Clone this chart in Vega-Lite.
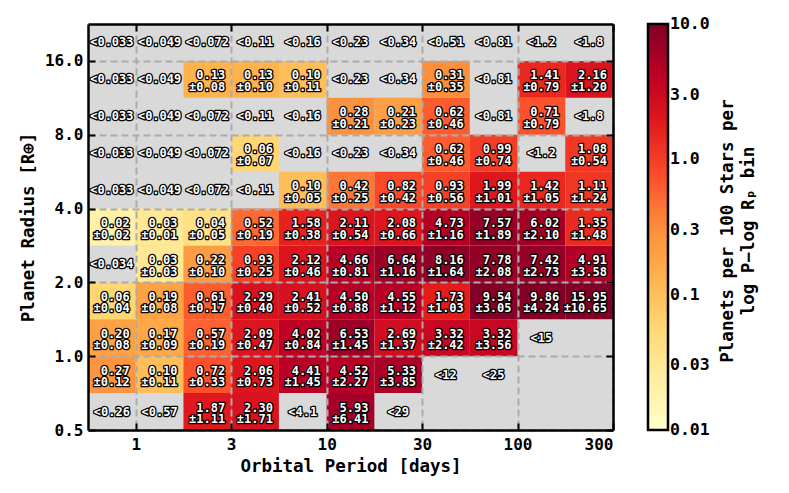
{
  "$schema": "https://vega.github.io/schema/vega-lite/v6.json",
  "autosize": "none",
  "width": 525,
  "height": 406,
  "padding": {"left": 88, "top": 24, "right": 176, "bottom": 63},
  "background": "white",
  "datasets": {
    "rates": [
      {"P0": 1.7, "P1": 3, "R0": 0.5, "R1": 0.707, "rate": 1.87, "err": 1.11, "label": "1.87\n±1.11"},
      {"P0": 3, "P1": 5.5, "R0": 0.5, "R1": 0.707, "rate": 2.30, "err": 1.71, "label": "2.30\n±1.71"},
      {"P0": 10, "P1": 17, "R0": 0.5, "R1": 0.707, "rate": 5.93, "err": 6.41, "label": "5.93\n±6.41"},

      {"P0": 0.5, "P1": 1, "R0": 0.707, "R1": 1, "rate": 0.27, "err": 0.12, "label": "0.27\n±0.12"},
      {"P0": 1, "P1": 1.7, "R0": 0.707, "R1": 1, "rate": 0.10, "err": 0.11, "label": "0.10\n±0.11"},
      {"P0": 1.7, "P1": 3, "R0": 0.707, "R1": 1, "rate": 0.72, "err": 0.33, "label": "0.72\n±0.33"},
      {"P0": 3, "P1": 5.5, "R0": 0.707, "R1": 1, "rate": 2.06, "err": 0.73, "label": "2.06\n±0.73"},
      {"P0": 5.5, "P1": 10, "R0": 0.707, "R1": 1, "rate": 4.41, "err": 1.45, "label": "4.41\n±1.45"},
      {"P0": 10, "P1": 17, "R0": 0.707, "R1": 1, "rate": 4.52, "err": 2.27, "label": "4.52\n±2.27"},
      {"P0": 17, "P1": 30, "R0": 0.707, "R1": 1, "rate": 5.33, "err": 3.85, "label": "5.33\n±3.85"},

      {"P0": 0.5, "P1": 1, "R0": 1, "R1": 1.414, "rate": 0.20, "err": 0.08, "label": "0.20\n±0.08"},
      {"P0": 1, "P1": 1.7, "R0": 1, "R1": 1.414, "rate": 0.17, "err": 0.09, "label": "0.17\n±0.09"},
      {"P0": 1.7, "P1": 3, "R0": 1, "R1": 1.414, "rate": 0.57, "err": 0.19, "label": "0.57\n±0.19"},
      {"P0": 3, "P1": 5.5, "R0": 1, "R1": 1.414, "rate": 2.09, "err": 0.47, "label": "2.09\n±0.47"},
      {"P0": 5.5, "P1": 10, "R0": 1, "R1": 1.414, "rate": 4.02, "err": 0.84, "label": "4.02\n±0.84"},
      {"P0": 10, "P1": 17, "R0": 1, "R1": 1.414, "rate": 6.53, "err": 1.45, "label": "6.53\n±1.45"},
      {"P0": 17, "P1": 30, "R0": 1, "R1": 1.414, "rate": 2.69, "err": 1.37, "label": "2.69\n±1.37"},
      {"P0": 30, "P1": 55, "R0": 1, "R1": 1.414, "rate": 3.32, "err": 2.42, "label": "3.32\n±2.42"},
      {"P0": 55, "P1": 100, "R0": 1, "R1": 1.414, "rate": 3.32, "err": 3.56, "label": "3.32\n±3.56"},

      {"P0": 0.5, "P1": 1, "R0": 1.414, "R1": 2, "rate": 0.06, "err": 0.04, "label": "0.06\n±0.04"},
      {"P0": 1, "P1": 1.7, "R0": 1.414, "R1": 2, "rate": 0.19, "err": 0.08, "label": "0.19\n±0.08"},
      {"P0": 1.7, "P1": 3, "R0": 1.414, "R1": 2, "rate": 0.61, "err": 0.17, "label": "0.61\n±0.17"},
      {"P0": 3, "P1": 5.5, "R0": 1.414, "R1": 2, "rate": 2.29, "err": 0.40, "label": "2.29\n±0.40"},
      {"P0": 5.5, "P1": 10, "R0": 1.414, "R1": 2, "rate": 2.41, "err": 0.52, "label": "2.41\n±0.52"},
      {"P0": 10, "P1": 17, "R0": 1.414, "R1": 2, "rate": 4.50, "err": 0.88, "label": "4.50\n±0.88"},
      {"P0": 17, "P1": 30, "R0": 1.414, "R1": 2, "rate": 4.55, "err": 1.12, "label": "4.55\n±1.12"},
      {"P0": 30, "P1": 55, "R0": 1.414, "R1": 2, "rate": 1.73, "err": 1.03, "label": "1.73\n±1.03"},
      {"P0": 55, "P1": 100, "R0": 1.414, "R1": 2, "rate": 9.54, "err": 3.05, "label": "9.54\n±3.05"},
      {"P0": 100, "P1": 170, "R0": 1.414, "R1": 2, "rate": 9.86, "err": 4.24, "label": "9.86\n±4.24"},
      {"P0": 170, "P1": 300, "R0": 1.414, "R1": 2, "rate": 15.95, "err": 10.65, "label": "15.95\n±10.65"},

      {"P0": 1, "P1": 1.7, "R0": 2, "R1": 2.828, "rate": 0.03, "err": 0.03, "label": "0.03\n±0.03"},
      {"P0": 1.7, "P1": 3, "R0": 2, "R1": 2.828, "rate": 0.22, "err": 0.10, "label": "0.22\n±0.10"},
      {"P0": 3, "P1": 5.5, "R0": 2, "R1": 2.828, "rate": 0.93, "err": 0.25, "label": "0.93\n±0.25"},
      {"P0": 5.5, "P1": 10, "R0": 2, "R1": 2.828, "rate": 2.12, "err": 0.46, "label": "2.12\n±0.46"},
      {"P0": 10, "P1": 17, "R0": 2, "R1": 2.828, "rate": 4.66, "err": 0.81, "label": "4.66\n±0.81"},
      {"P0": 17, "P1": 30, "R0": 2, "R1": 2.828, "rate": 6.64, "err": 1.16, "label": "6.64\n±1.16"},
      {"P0": 30, "P1": 55, "R0": 2, "R1": 2.828, "rate": 8.16, "err": 1.64, "label": "8.16\n±1.64"},
      {"P0": 55, "P1": 100, "R0": 2, "R1": 2.828, "rate": 7.78, "err": 2.08, "label": "7.78\n±2.08"},
      {"P0": 100, "P1": 170, "R0": 2, "R1": 2.828, "rate": 7.42, "err": 2.73, "label": "7.42\n±2.73"},
      {"P0": 170, "P1": 300, "R0": 2, "R1": 2.828, "rate": 4.91, "err": 3.58, "label": "4.91\n±3.58"},

      {"P0": 0.5, "P1": 1, "R0": 2.828, "R1": 4, "rate": 0.02, "err": 0.02, "label": "0.02\n±0.02"},
      {"P0": 1, "P1": 1.7, "R0": 2.828, "R1": 4, "rate": 0.03, "err": 0.01, "label": "0.03\n±0.01"},
      {"P0": 1.7, "P1": 3, "R0": 2.828, "R1": 4, "rate": 0.04, "err": 0.05, "label": "0.04\n±0.05"},
      {"P0": 3, "P1": 5.5, "R0": 2.828, "R1": 4, "rate": 0.52, "err": 0.19, "label": "0.52\n±0.19"},
      {"P0": 5.5, "P1": 10, "R0": 2.828, "R1": 4, "rate": 1.58, "err": 0.38, "label": "1.58\n±0.38"},
      {"P0": 10, "P1": 17, "R0": 2.828, "R1": 4, "rate": 2.11, "err": 0.54, "label": "2.11\n±0.54"},
      {"P0": 17, "P1": 30, "R0": 2.828, "R1": 4, "rate": 2.08, "err": 0.66, "label": "2.08\n±0.66"},
      {"P0": 30, "P1": 55, "R0": 2.828, "R1": 4, "rate": 4.73, "err": 1.16, "label": "4.73\n±1.16"},
      {"P0": 55, "P1": 100, "R0": 2.828, "R1": 4, "rate": 7.57, "err": 1.89, "label": "7.57\n±1.89"},
      {"P0": 100, "P1": 170, "R0": 2.828, "R1": 4, "rate": 6.02, "err": 2.10, "label": "6.02\n±2.10"},
      {"P0": 170, "P1": 300, "R0": 2.828, "R1": 4, "rate": 1.35, "err": 1.48, "label": "1.35\n±1.48"},

      {"P0": 5.5, "P1": 10, "R0": 4, "R1": 5.657, "rate": 0.10, "err": 0.05, "label": "0.10\n±0.05"},
      {"P0": 10, "P1": 17, "R0": 4, "R1": 5.657, "rate": 0.42, "err": 0.25, "label": "0.42\n±0.25"},
      {"P0": 17, "P1": 30, "R0": 4, "R1": 5.657, "rate": 0.82, "err": 0.42, "label": "0.82\n±0.42"},
      {"P0": 30, "P1": 55, "R0": 4, "R1": 5.657, "rate": 0.93, "err": 0.56, "label": "0.93\n±0.56"},
      {"P0": 55, "P1": 100, "R0": 4, "R1": 5.657, "rate": 1.99, "err": 1.01, "label": "1.99\n±1.01"},
      {"P0": 100, "P1": 170, "R0": 4, "R1": 5.657, "rate": 1.42, "err": 1.05, "label": "1.42\n±1.05"},
      {"P0": 170, "P1": 300, "R0": 4, "R1": 5.657, "rate": 1.11, "err": 1.24, "label": "1.11\n±1.24"},

      {"P0": 3, "P1": 5.5, "R0": 5.657, "R1": 8, "rate": 0.06, "err": 0.07, "label": "0.06\n±0.07"},
      {"P0": 30, "P1": 55, "R0": 5.657, "R1": 8, "rate": 0.62, "err": 0.46, "label": "0.62\n±0.46"},
      {"P0": 55, "P1": 100, "R0": 5.657, "R1": 8, "rate": 0.99, "err": 0.74, "label": "0.99\n±0.74"},
      {"P0": 170, "P1": 300, "R0": 5.657, "R1": 8, "rate": 1.08, "err": 0.54, "label": "1.08\n±0.54"},

      {"P0": 10, "P1": 17, "R0": 8, "R1": 11.31, "rate": 0.28, "err": 0.21, "label": "0.28\n±0.21"},
      {"P0": 17, "P1": 30, "R0": 8, "R1": 11.31, "rate": 0.21, "err": 0.23, "label": "0.21\n±0.23"},
      {"P0": 30, "P1": 55, "R0": 8, "R1": 11.31, "rate": 0.62, "err": 0.46, "label": "0.62\n±0.46"},
      {"P0": 100, "P1": 170, "R0": 8, "R1": 11.31, "rate": 0.71, "err": 0.79, "label": "0.71\n±0.79"},

      {"P0": 1.7, "P1": 3, "R0": 11.31, "R1": 16, "rate": 0.13, "err": 0.08, "label": "0.13\n±0.08"},
      {"P0": 3, "P1": 5.5, "R0": 11.31, "R1": 16, "rate": 0.13, "err": 0.10, "label": "0.13\n±0.10"},
      {"P0": 5.5, "P1": 10, "R0": 11.31, "R1": 16, "rate": 0.10, "err": 0.11, "label": "0.10\n±0.11"},
      {"P0": 30, "P1": 55, "R0": 11.31, "R1": 16, "rate": 0.31, "err": 0.35, "label": "0.31\n±0.35"},
      {"P0": 100, "P1": 170, "R0": 11.31, "R1": 16, "rate": 1.41, "err": 0.79, "label": "1.41\n±0.79"},
      {"P0": 170, "P1": 300, "R0": 11.31, "R1": 16, "rate": 2.16, "err": 1.20, "label": "2.16\n±1.20"}
    ],
    "limits": [
      {"P0": 0.5, "P1": 1, "R0": 0.5, "R1": 0.707, "limit": 0.26, "label": "<0.26"},
      {"P0": 1, "P1": 1.7, "R0": 0.5, "R1": 0.707, "limit": 0.57, "label": "<0.57"},
      {"P0": 5.5, "P1": 10, "R0": 0.5, "R1": 0.707, "limit": 4.1, "label": "<4.1"},
      {"P0": 17, "P1": 30, "R0": 0.5, "R1": 0.707, "limit": 29, "label": "<29"},
      {"P0": 30, "P1": 55, "R0": 0.707, "R1": 1, "limit": 12, "label": "<12"},
      {"P0": 55, "P1": 100, "R0": 0.707, "R1": 1, "limit": 25, "label": "<25"},
      {"P0": 100, "P1": 170, "R0": 1, "R1": 1.414, "limit": 15, "label": "<15"},
      {"P0": 0.5, "P1": 1, "R0": 2, "R1": 2.828, "limit": 0.034, "label": "<0.034"},
      {"P0": 0.5, "P1": 1, "R0": 4, "R1": 5.657, "limit": 0.033, "label": "<0.033"},
      {"P0": 1, "P1": 1.7, "R0": 4, "R1": 5.657, "limit": 0.049, "label": "<0.049"},
      {"P0": 1.7, "P1": 3, "R0": 4, "R1": 5.657, "limit": 0.072, "label": "<0.072"},
      {"P0": 3, "P1": 5.5, "R0": 4, "R1": 5.657, "limit": 0.11, "label": "<0.11"},
      {"P0": 0.5, "P1": 1, "R0": 5.657, "R1": 8, "limit": 0.033, "label": "<0.033"},
      {"P0": 1, "P1": 1.7, "R0": 5.657, "R1": 8, "limit": 0.049, "label": "<0.049"},
      {"P0": 1.7, "P1": 3, "R0": 5.657, "R1": 8, "limit": 0.072, "label": "<0.072"},
      {"P0": 5.5, "P1": 10, "R0": 5.657, "R1": 8, "limit": 0.16, "label": "<0.16"},
      {"P0": 10, "P1": 17, "R0": 5.657, "R1": 8, "limit": 0.23, "label": "<0.23"},
      {"P0": 17, "P1": 30, "R0": 5.657, "R1": 8, "limit": 0.34, "label": "<0.34"},
      {"P0": 100, "P1": 170, "R0": 5.657, "R1": 8, "limit": 1.2, "label": "<1.2"},
      {"P0": 0.5, "P1": 1, "R0": 8, "R1": 11.31, "limit": 0.033, "label": "<0.033"},
      {"P0": 1, "P1": 1.7, "R0": 8, "R1": 11.31, "limit": 0.049, "label": "<0.049"},
      {"P0": 1.7, "P1": 3, "R0": 8, "R1": 11.31, "limit": 0.072, "label": "<0.072"},
      {"P0": 3, "P1": 5.5, "R0": 8, "R1": 11.31, "limit": 0.11, "label": "<0.11"},
      {"P0": 5.5, "P1": 10, "R0": 8, "R1": 11.31, "limit": 0.16, "label": "<0.16"},
      {"P0": 55, "P1": 100, "R0": 8, "R1": 11.31, "limit": 0.81, "label": "<0.81"},
      {"P0": 170, "P1": 300, "R0": 8, "R1": 11.31, "limit": 1.8, "label": "<1.8"},
      {"P0": 0.5, "P1": 1, "R0": 11.31, "R1": 16, "limit": 0.033, "label": "<0.033"},
      {"P0": 1, "P1": 1.7, "R0": 11.31, "R1": 16, "limit": 0.049, "label": "<0.049"},
      {"P0": 10, "P1": 17, "R0": 11.31, "R1": 16, "limit": 0.23, "label": "<0.23"},
      {"P0": 17, "P1": 30, "R0": 11.31, "R1": 16, "limit": 0.34, "label": "<0.34"},
      {"P0": 55, "P1": 100, "R0": 11.31, "R1": 16, "limit": 0.81, "label": "<0.81"},
      {"P0": 0.5, "P1": 1, "R0": 16, "R1": 22.63, "limit": 0.033, "label": "<0.033"},
      {"P0": 1, "P1": 1.7, "R0": 16, "R1": 22.63, "limit": 0.049, "label": "<0.049"},
      {"P0": 1.7, "P1": 3, "R0": 16, "R1": 22.63, "limit": 0.072, "label": "<0.072"},
      {"P0": 3, "P1": 5.5, "R0": 16, "R1": 22.63, "limit": 0.11, "label": "<0.11"},
      {"P0": 5.5, "P1": 10, "R0": 16, "R1": 22.63, "limit": 0.16, "label": "<0.16"},
      {"P0": 10, "P1": 17, "R0": 16, "R1": 22.63, "limit": 0.23, "label": "<0.23"},
      {"P0": 17, "P1": 30, "R0": 16, "R1": 22.63, "limit": 0.34, "label": "<0.34"},
      {"P0": 30, "P1": 55, "R0": 16, "R1": 22.63, "limit": 0.51, "label": "<0.51"},
      {"P0": 55, "P1": 100, "R0": 16, "R1": 22.63, "limit": 0.81, "label": "<0.81"},
      {"P0": 100, "P1": 170, "R0": 16, "R1": 22.63, "limit": 1.2, "label": "<1.2"},
      {"P0": 170, "P1": 300, "R0": 16, "R1": 22.63, "limit": 1.8, "label": "<1.8"}
    ]
  },
  "layer": [
    {
      "data": {"name": "rates"},
      "mark": {"type": "rect"},
      "encoding": {
        "x": {
          "field": "P0", "type": "quantitative",
          "scale": {"type": "linear", "domain": [0.5, 1, 1.7, 3, 5.5, 10, 17, 30, 55, 100, 170, 300], "range": [0, 47.73, 95.45, 143.18, 190.91, 238.64, 286.36, 334.09, 381.82, 429.55, 477.27, 525], "nice": false, "zero": false},
          "axis": {"orient": "bottom", "title": "Orbital Period [days]", "values": [1, 3, 10, 30, 100, 300], "format": "d", "grid": true, "zindex": 1, "labelPadding": 13, "titlePadding": 5}
        },
        "x2": {"field": "P1"},
        "y": {
          "field": "R0", "type": "quantitative",
          "scale": {"type": "log", "base": 2, "domain": [0.5, 22.63], "nice": false},
          "axis": {"orient": "left", "title": "Planet Radius [R⊕]", "values": [0.5, 1, 2, 4, 8, 16], "format": ".1f", "grid": true, "zindex": 1, "labelPadding": 12, "titlePadding": 7}
        },
        "y2": {"field": "R1"},
        "color": {
          "field": "rate", "type": "quantitative",
          "scale": {"type": "log", "domain": [0.01, 0.02371, 0.05623, 0.1334, 0.3162, 0.7499, 1.778, 4.217, 10], "range": ["#ffffcc", "#ffeda0", "#fed976", "#feb24c", "#fd8d3c", "#fc4e2a", "#e31a1c", "#bd0026", "#800026"], "clamp": true, "interpolate": "rgb"},
          "legend": {
            "title": ["Planets per 100 Stars per", "log P−log Rₚ bin"],
            "orient": "right",
            "offset": 34,
            "values": [0.01, 0.03, 0.1, 0.3, 1, 3, 10],
            "labelExpr": "datum.value >= 1 ? format(datum.value, '.1f') : format(datum.value, '~g')",
            "titleOrient": "right",
            "titleAnchor": "middle",
            "encode": {
              "title": {"update": {"angle": {"value": -90}, "align": {"value": "center"}, "baseline": {"value": "top"}, "dx": {"value": -14}, "dy": {"value": 3}}},
              "labels": {"update": {"baseline": {"value": "middle"}}}
            }
          }
        }
      }
    },
    {
      "data": {"name": "rates"},
      "mark": {"type": "text", "align": "right", "baseline": "middle", "dx": -6, "dy": -22.5, "font": "DejaVu Sans Mono", "fontWeight": "bold", "fontSize": 12, "lineBreak": "\n", "lineHeight": 11.7, "fill": "black", "stroke": "black", "strokeWidth": 2.6, "strokeJoin": "round"},
      "encoding": {
        "x": {"field": "P1", "type": "quantitative", "axis": null},
        "y": {"field": "R0", "type": "quantitative", "axis": null},
        "text": {"field": "label"}
      }
    },
    {
      "data": {"name": "rates"},
      "mark": {"type": "text", "align": "right", "baseline": "middle", "dx": -6, "dy": -22.5, "font": "DejaVu Sans Mono", "fontWeight": "bold", "fontSize": 12, "lineBreak": "\n", "lineHeight": 11.7, "fill": "white"},
      "encoding": {
        "x": {"field": "P1", "type": "quantitative", "axis": null},
        "y": {"field": "R0", "type": "quantitative", "axis": null},
        "text": {"field": "label"}
      }
    },
    {
      "data": {"name": "limits"},
      "mark": {"type": "text", "align": "center", "baseline": "middle", "dx": 23.86, "dy": -18.45, "font": "DejaVu Sans Mono", "fontWeight": "bold", "fontSize": 12, "fill": "black", "stroke": "black", "strokeWidth": 2.6, "strokeJoin": "round"},
      "encoding": {
        "x": {"field": "P0", "type": "quantitative", "axis": null},
        "y": {"field": "R0", "type": "quantitative", "axis": null},
        "text": {"field": "label"}
      }
    },
    {
      "data": {"name": "limits"},
      "mark": {"type": "text", "align": "center", "baseline": "middle", "dx": 23.86, "dy": -18.45, "font": "DejaVu Sans Mono", "fontWeight": "bold", "fontSize": 12, "fill": "white"},
      "encoding": {
        "x": {"field": "P0", "type": "quantitative", "axis": {"orient": "top", "labels": false, "title": null, "grid": false, "values": [1, 3, 10, 30, 100, 300], "zindex": 1}},
        "y": {"field": "R0", "type": "quantitative", "axis": {"orient": "right", "labels": false, "title": null, "grid": false, "values": [0.5, 1, 2, 4, 8, 16], "zindex": 1}},
        "text": {"field": "label"}
      }
    }
  ],
  "config": {
    "view": {"stroke": null, "fill": "#d9d9d9"},
    "axis": {
      "labelFont": "DejaVu Sans Mono", "labelFontWeight": "bold", "labelFontSize": 16, "labelColor": "black",
      "titleFont": "DejaVu Sans Mono", "titleFontWeight": "bold", "titleFontSize": 17.5, "titleColor": "black",
      "domain": true, "domainColor": "black", "domainWidth": 2.5,
      "ticks": true, "tickColor": "black", "tickWidth": 2, "tickSize": -7,
      "gridColor": "#ababab", "gridDash": [7, 4], "gridWidth": 2,
      "labelOverlap": false
    },
    "legend": {
      "padding": 0,
      "gradientLength": 406, "gradientThickness": 20,
      "gradientStrokeColor": "black", "gradientStrokeWidth": 2.5,
      "labelFont": "DejaVu Sans Mono", "labelFontWeight": "bold", "labelFontSize": 16.5, "labelColor": "black", "labelOffset": 5, "labelOverlap": false,
      "titleFont": "DejaVu Sans Mono", "titleFontWeight": "bold", "titleFontSize": 17.5, "titleColor": "black", "titleLineHeight": 21, "titlePadding": 6, "titleLimit": 1000
    }
  }
}
